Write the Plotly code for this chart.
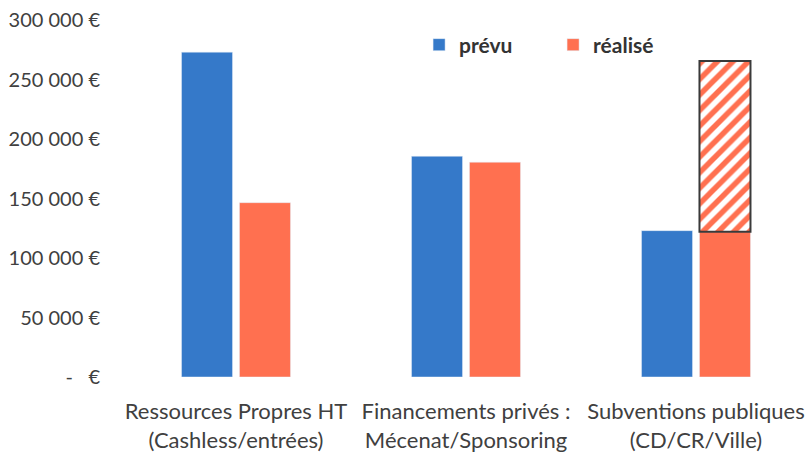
import plotly.graph_objects as go

categories = ["Ressources Propres HT<br>(Cashless/entrées)",
              "Financements privés :<br>Mécenat/Sponsoring",
              "Subventions publiques<br>(CD/CR/Ville)"]
prevu = [273000, 185500, 123000]
realise = [146500, 180500, 122000]
attendu_extra = [None, None, 143500]

tick_vals = [0, 50000, 100000, 150000, 200000, 250000, 300000]
tick_text = ["-   €", "50 000 €", "100 000 €", "150 000 €", "200 000 €", "250 000 €", "300 000 €"]

BLUE = "#3579C9"
ORANGE = "#FF7050"
TXT = "#404040"
FONT = "Lato"

fig = go.Figure()
fig.add_trace(go.Bar(name="prévu", x=categories, y=prevu, marker_color=BLUE,
                     offsetgroup="p"))
fig.add_trace(go.Bar(name="réalisé", x=categories, y=realise, marker_color=ORANGE,
                     offsetgroup="r"))
fig.add_trace(go.Bar(name="attendu", x=categories, y=attendu_extra, base=realise,
                     offsetgroup="r", showlegend=False,
                     marker=dict(color="white",
                                 line=dict(color="#3a3a3a", width=2),
                                 pattern=dict(shape="/", fgcolor=ORANGE, bgcolor="white",
                                              fgopacity=1, size=11, solidity=0.5,
                                              fillmode="replace"))))

fig.update_layout(
    width=811, height=452,
    margin=dict(l=121, r=0, t=20, b=75, autoexpand=False),
    paper_bgcolor="white", plot_bgcolor="white",
    barmode="group", bargap=0.496, bargroupgap=0.12,
    font=dict(family=FONT, size=20, color=TXT),
    legend=dict(orientation="h", x=0.432, y=0.93, xanchor="left", yanchor="middle",
                font=dict(family=FONT, size=21, color="#333333", weight="bold"),
                entrywidth=89, entrywidthmode="pixels",
                itemwidth=30, bgcolor="rgba(0,0,0,0)"),
    showlegend=True,
)
fig.update_xaxes(showgrid=False, showline=False, zeroline=False, ticks="",
                 automargin=False, ticklabelstandoff=19,
                 tickfont=dict(family=FONT, size=22, color=TXT))
fig.update_yaxes(range=[0, 300000], showgrid=False, showline=False, zeroline=False,
                 automargin=False, ticklabeloverflow="allow",
                 tickvals=tick_vals, ticktext=tick_text, ticks="", ticklabelstandoff=20,
                 tickfont=dict(family=FONT, size=20, color=TXT))

fig.write_html("out.html", config={"displayModeBar": False},
               post_script="document.body.style.margin='0';document.body.style.overflow='hidden';")
